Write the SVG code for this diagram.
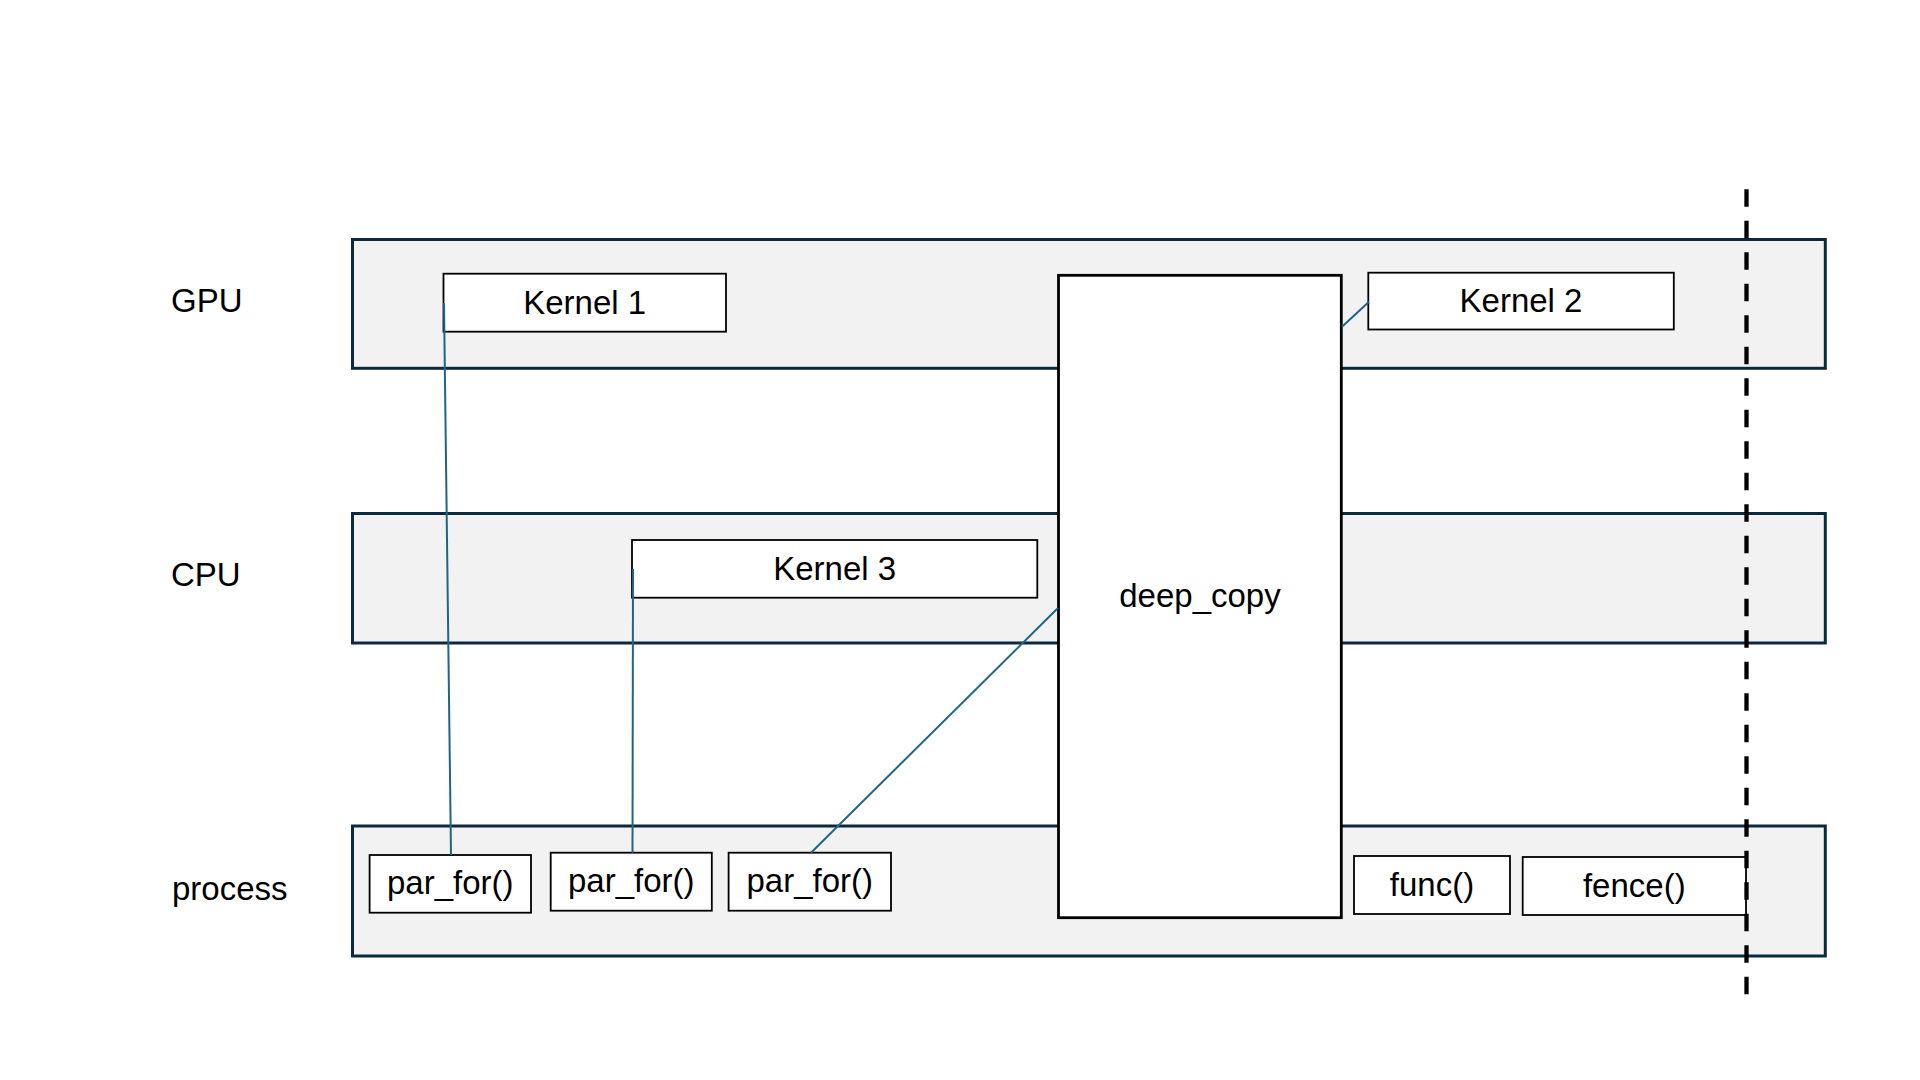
<svg xmlns="http://www.w3.org/2000/svg" width="1920" height="1080" viewBox="0 0 1920 1080">
<style>
  text { font-family: "Liberation Sans", Arial, sans-serif; font-size: 33px; fill: #000; }
  .mid { text-anchor: middle; }
  .band { fill: #f2f2f2; stroke: #0c2a3b; stroke-width: 3; }
  .box { fill: #ffffff; stroke: #000; stroke-width: 1.8; }
  .big { fill: #ffffff; stroke: #000; stroke-width: 2.8; }
  .conn { stroke: #1f6587; stroke-width: 2; fill: none; }
  .fence-line { stroke: #000; stroke-width: 4.3; stroke-dasharray: 17.5 14; fill: none; }
</style>
<rect width="1920" height="1080" fill="#ffffff"/>

<g id="lane-labels">
  <text x="171" y="312">GPU</text>
  <text x="171" y="586">CPU</text>
  <text x="172" y="900">process</text>
</g>

<g id="lanes">
  <rect id="lane-gpu" class="band" x="352.5" y="239.5" width="1472.8" height="128.8"/>
  <rect id="lane-cpu" class="band" x="352.5" y="513.5" width="1472.8" height="129.5"/>
  <rect id="lane-process" class="band" x="352.5" y="826" width="1472.8" height="130"/>
</g>

<g id="kernel1">
  <rect class="box" x="443.5" y="273.7" width="282.5" height="58"/>
  <text class="mid" x="584.7" y="314">Kernel 1</text>
</g>
<g id="kernel2">
  <rect class="box" x="1368.3" y="272.7" width="305.5" height="56.8"/>
  <text class="mid" x="1521" y="311.5">Kernel 2</text>
</g>
<g id="kernel3">
  <rect class="box" x="632" y="540" width="405.3" height="57.7"/>
  <text class="mid" x="834.7" y="580">Kernel 3</text>
</g>
<g id="deep_copy">
  <rect class="big" x="1058.5" y="275.3" width="282.8" height="642.4"/>
  <text class="mid" x="1200" y="607">deep_copy</text>
</g>
<g id="par_for1">
  <rect class="box" x="369.6" y="855" width="161.4" height="57.7"/>
  <text class="mid" x="450.3" y="894">par_for()</text>
</g>
<g id="par_for2">
  <rect class="box" x="550.7" y="852.7" width="161.1" height="58"/>
  <text class="mid" x="631.3" y="892.3">par_for()</text>
</g>
<g id="par_for3">
  <rect class="box" x="728.6" y="852.7" width="162.4" height="58"/>
  <text class="mid" x="809.8" y="892.3">par_for()</text>
</g>
<g id="func">
  <rect class="box" x="1354" y="856" width="156" height="58"/>
  <text class="mid" x="1432" y="895.5">func()</text>
</g>
<g id="fence">
  <rect class="box" x="1522.7" y="857" width="223.3" height="58"/>
  <text class="mid" x="1634.3" y="896.5">fence()</text>
</g>

<g id="connectors">
  <line class="conn" x1="444" y1="303" x2="451" y2="855"/>
  <line class="conn" x1="633" y1="569" x2="632.5" y2="852.7"/>
  <line class="conn" x1="1058" y1="608" x2="811" y2="852.7"/>
  <line class="conn" x1="1369" y1="301.7" x2="1342" y2="326.7"/>
</g>

<g id="fence-marker">
  <line class="fence-line" x1="1746.5" y1="189.3" x2="1746.5" y2="995"/>
</g>
</svg>
